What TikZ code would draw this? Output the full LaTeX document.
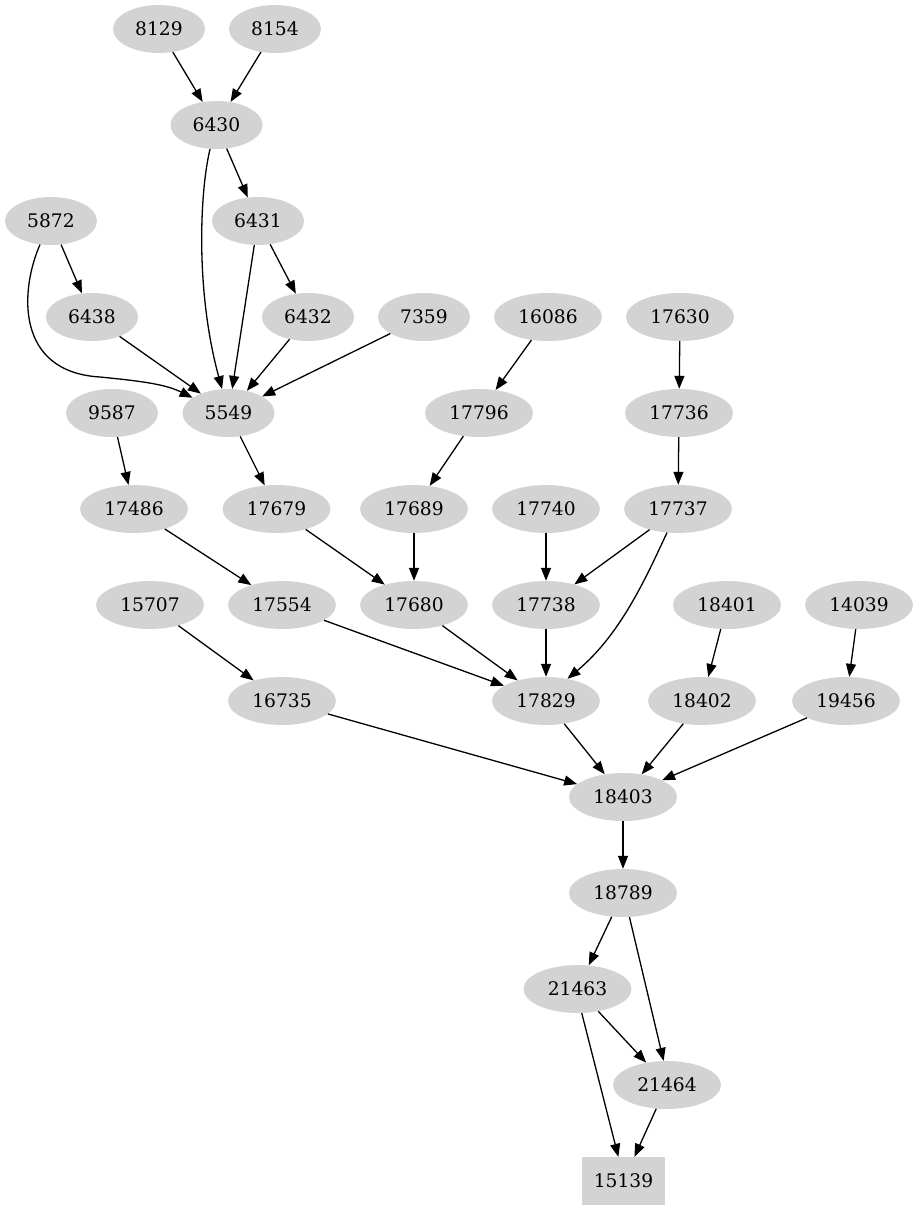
\documentclass[tikz,border=0pt]{standalone}
\usepackage{fontspec}
\setmainfont{DejaVu Serif}
\usetikzlibrary{shapes.geometric,arrows.meta}
\definecolor{nodegray}{HTML}{D3D3D3}
\tikzset{
  nd/.style={ellipse,fill=nodegray,draw=none,inner sep=0pt,minimum height=48pt,
    font=\fontsize{18.67}{22}\selectfont},
  nfour/.style={nd,minimum width=92pt},
  nfive/.style={nd,minimum width=108pt},
  nbox/.style={rectangle,fill=nodegray,draw=none,inner sep=0pt,minimum width=83pt,minimum height=48pt,
    font=\fontsize{18.67}{22}\selectfont},
  edge/.style={line width=1.3pt,-{Triangle[length=13pt,width=10pt]}}
}
\begin{document}
\begin{tikzpicture}[x=1pt,y=-1pt]
\useasboundingbox (0,0) rectangle (918,1211);
% row 1
\node[nfour] (n8129) at (159,29) {8129};
\node[nfour] (n8154) at (275,29) {8154};
% row 2
\node[nfour] (n6430) at (216.5,125) {6430};
% row 3
\node[nfour] (n5872) at (51,221) {5872};
\node[nfour] (n6431) at (258,221) {6431};
% row 4
\node[nfour] (n6438) at (92,317) {6438};
\node[nfour] (n6432) at (308,317) {6432};
\node[nfour] (n7359) at (424,317) {7359};
\node[nfive] (n16086) at (548,317) {16086};
\node[nfive] (n17630) at (680,317) {17630};
% row 5
\node[nfour] (n9587) at (112,413) {9587};
\node[nfour] (n5549) at (228.5,413) {5549};
\node[nfive] (n17796) at (479,413) {17796};
\node[nfive] (n17736) at (679,413) {17736};
% row 6
\node[nfive] (n17486) at (134,509) {17486};
\node[nfive] (n17679) at (276.5,509) {17679};
\node[nfive] (n17689) at (414,509) {17689};
\node[nfive] (n17740) at (546,509) {17740};
\node[nfive] (n17737) at (678,509) {17737};
% row 7
\node[nfive] (n15707) at (150,605) {15707};
\node[nfive] (n17554) at (282,605) {17554};
\node[nfive] (n17680) at (414,605) {17680};
\node[nfive] (n17738) at (546,605) {17738};
\node[nfive] (n18401) at (727,605) {18401};
\node[nfive] (n14039) at (859,605) {14039};
% row 8
\node[nfive] (n16735) at (282,701) {16735};
\node[nfive] (n17829) at (546,701) {17829};
\node[nfive] (n18402) at (702,701) {18402};
\node[nfive] (n19456) at (846,701) {19456};
% row 9
\node[nfive] (n18403) at (623,797) {18403};
% row 10
\node[nfive] (n18789) at (623,893) {18789};
% row 11
\node[nfive] (n21463) at (577.5,989) {21463};
% row 12
\node[nfive] (n21464) at (667,1085) {21464};
% row 13
\node[nbox] (n15139) at (623.5,1181) {15139};

% edges
\draw[edge] (n8129) -- (n6430);
\draw[edge] (n8154) -- (n6430);
\draw[edge] (n6430) -- (n6431);
\draw[edge] (n6430.255) .. controls (200,190) and (195,290) .. (n5549.105);
\draw[edge] (n6431) -- (n5549);
\draw[edge] (n6431) -- (n6432);
\draw[edge] (n5872) -- (n6438);
\draw[edge] (n5872.245) .. controls (20,290) and (15,372) .. (100,377) .. controls (140,381) and (165,384) .. (n5549.157);
\draw[edge] (n6438) -- (n5549);
\draw[edge] (n6432) -- (n5549);
\draw[edge] (n7359) -- (n5549);
\draw[edge] (n16086) -- (n17796);
\draw[edge] (n17630) -- (n17736);
\draw[edge] (n9587) -- (n17486);
\draw[edge] (n5549) -- (n17679);
\draw[edge] (n17796) -- (n17689);
\draw[edge] (n17736) -- (n17737);
\draw[edge] (n17486) -- (n17554);
\draw[edge] (n17679) -- (n17680);
\draw[edge] (n17689) -- (n17680);
\draw[edge] (n17740) -- (n17738);
\draw[edge] (n17737) -- (n17738);
\draw[edge] (n17737.245) .. controls (645,580) and (620,635) .. (n17829.46);
\draw[edge] (n15707) -- (n16735);
\draw[edge] (n17554) -- (n17829);
\draw[edge] (n17680) -- (n17829);
\draw[edge] (n17738) -- (n17829);
\draw[edge] (n18401) -- (n18402);
\draw[edge] (n14039) -- (n19456);
\draw[edge] (n16735) -- (n18403);
\draw[edge] (n17829) -- (n18403);
\draw[edge] (n18402) -- (n18403);
\draw[edge] (n19456) -- (n18403);
\draw[edge] (n18403) -- (n18789);
\draw[edge] (n18789) -- (n21463);
\draw[edge] (n18789.285) -- (n21464.98);
\draw[edge] (n21463) -- (n21464);
\draw[edge] (n21463.280) -- (n15139.102);
\draw[edge] (n21464) -- (n15139);
\end{tikzpicture}
\end{document}
